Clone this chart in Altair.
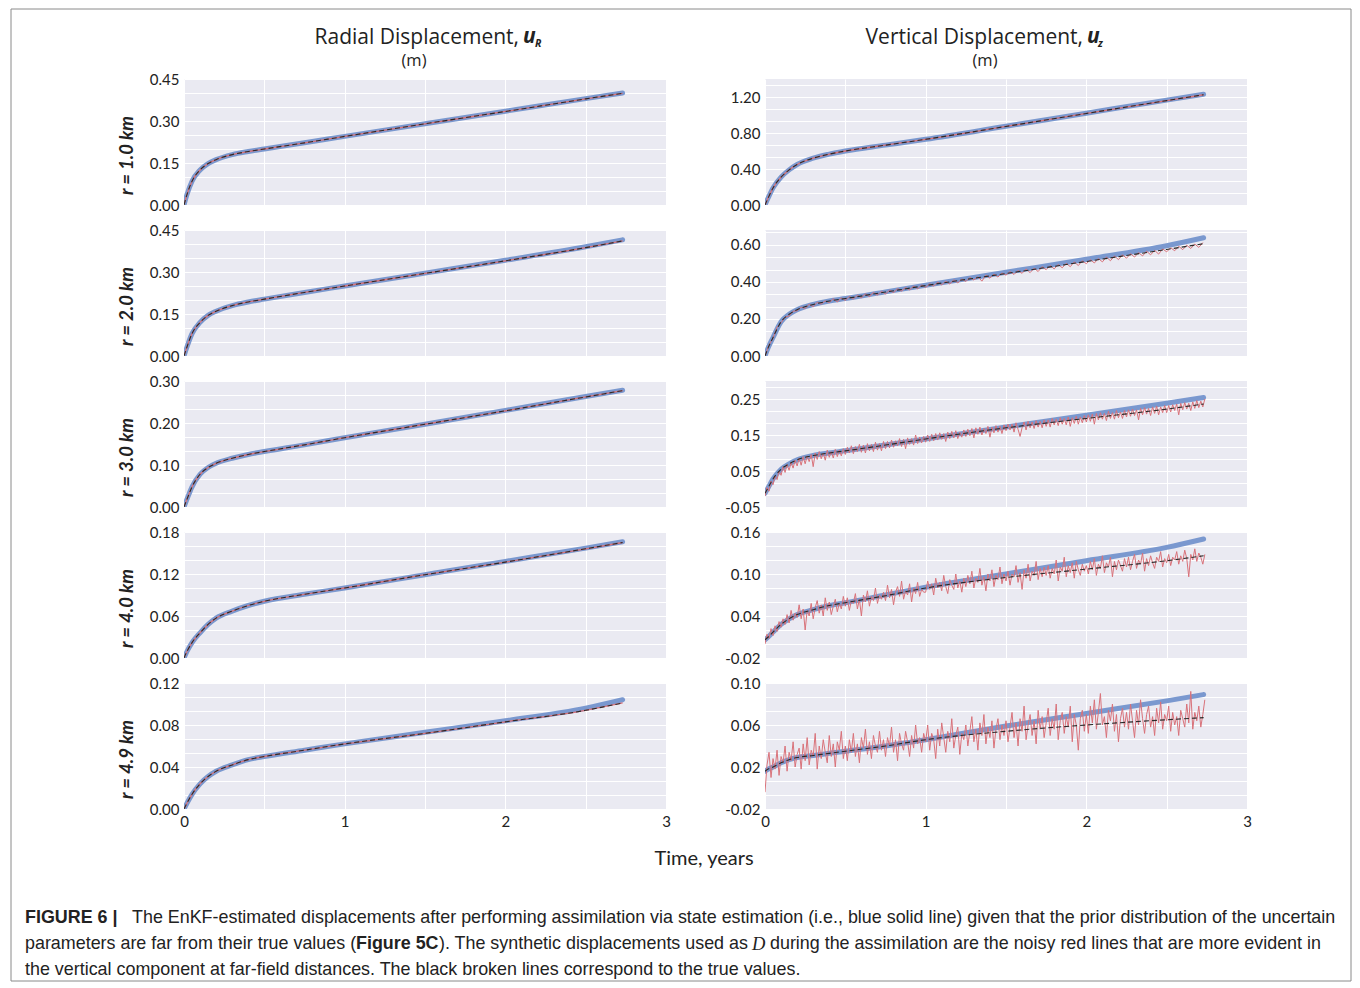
import altair as alt
import pandas as pd

# ---------------- data ----------------
T = [0, 0.02, 0.05, 0.1, 0.15, 0.2, 0.3, 0.4, 0.5, 0.75, 1.0, 1.5, 2.0, 2.5, 2.73]
T_OBS = [round(i * 0.025, 4) for i in range(110)]        # 0 .. 2.725
T_OBS2 = [round(i * 0.0125, 4) for i in range(220)]      # 0 .. 2.7375

# Radial displacement u_R (left column)
L1_EST = [0, 0.04, 0.085, 0.125, 0.148, 0.162, 0.180, 0.191, 0.200, 0.222, 0.245, 0.290, 0.335, 0.380, 0.400]
L1_TRUE = [0, 0.04, 0.085, 0.125, 0.148, 0.162, 0.180, 0.191, 0.200, 0.222, 0.245, 0.290, 0.334, 0.379, 0.399]
L2_EST = [0, 0.035, 0.08, 0.12, 0.145, 0.16, 0.18, 0.193, 0.203, 0.227, 0.25, 0.296, 0.342, 0.390, 0.415]
L2_TRUE = [0, 0.035, 0.08, 0.12, 0.145, 0.16, 0.18, 0.193, 0.203, 0.227, 0.25, 0.295, 0.340, 0.387, 0.411]
L3_EST = [0, 0.02, 0.048, 0.078, 0.094, 0.104, 0.116, 0.125, 0.132, 0.148, 0.165, 0.197, 0.230, 0.263, 0.278]
L3_TRUE = [0, 0.02, 0.048, 0.078, 0.094, 0.104, 0.116, 0.125, 0.132, 0.148, 0.165, 0.197, 0.229, 0.262, 0.277]
L4_EST = [0, 0.01, 0.022, 0.036, 0.048, 0.057, 0.067, 0.075, 0.081, 0.091, 0.100, 0.119, 0.138, 0.157, 0.166]
L4_TRUE = [0, 0.01, 0.022, 0.036, 0.048, 0.057, 0.067, 0.075, 0.081, 0.091, 0.100, 0.119, 0.137, 0.156, 0.165]
L5_EST = [0, 0.006, 0.014, 0.024, 0.031, 0.036, 0.042, 0.047, 0.050, 0.056, 0.062, 0.073, 0.084, 0.096, 0.104]
L5_TRUE = [0, 0.006, 0.014, 0.024, 0.031, 0.036, 0.042, 0.047, 0.050, 0.056, 0.062, 0.072, 0.083, 0.094, 0.101]

# Vertical displacement u_z (right column)
R1_EST = [0, 0.08, 0.19, 0.31, 0.39, 0.45, 0.52, 0.565, 0.60, 0.665, 0.73, 0.875, 1.02, 1.165, 1.23]
R1_TRUE = [0, 0.08, 0.19, 0.31, 0.39, 0.45, 0.52, 0.565, 0.60, 0.665, 0.73, 0.873, 1.017, 1.16, 1.225]
R2_EST = [0, 0.045, 0.1, 0.185, 0.225, 0.25, 0.278, 0.297, 0.31, 0.346, 0.382, 0.452, 0.522, 0.595, 0.638]
R2_TRUE = [0, 0.045, 0.1, 0.185, 0.225, 0.25, 0.278, 0.297, 0.31, 0.345, 0.38, 0.445, 0.51, 0.575, 0.606]
R3_EST = [-0.012, 0.004, 0.028, 0.055, 0.070, 0.081, 0.093, 0.100, 0.106, 0.122, 0.139, 0.172, 0.205, 0.238, 0.254]
R3_TRUE = [-0.012, 0.004, 0.028, 0.055, 0.070, 0.081, 0.093, 0.100, 0.106, 0.122, 0.139, 0.170, 0.196, 0.222, 0.236]
R4_EST = [0.006, 0.01, 0.017, 0.028, 0.036, 0.042, 0.049, 0.055, 0.059, 0.070, 0.081, 0.100, 0.119, 0.138, 0.150]
R4_TRUE = [0.006, 0.01, 0.017, 0.028, 0.036, 0.042, 0.049, 0.055, 0.059, 0.069, 0.080, 0.095, 0.107, 0.119, 0.126]
R5_EST = [0.016, 0.018, 0.020, 0.024, 0.027, 0.029, 0.031, 0.033, 0.035, 0.040, 0.046, 0.059, 0.071, 0.083, 0.089]
R5_TRUE = [0.016, 0.018, 0.020, 0.024, 0.027, 0.029, 0.031, 0.033, 0.035, 0.040, 0.046, 0.054, 0.060, 0.065, 0.067]

# noisy synthetic observations D (red)
R2_OBS = [0.000, 0.060, 0.096, 0.156, 0.180, 0.210, 0.216, 0.242, 0.244, 0.264,
          0.256, 0.280, 0.266, 0.290, 0.280, 0.298, 0.288, 0.310, 0.292, 0.314,
          0.300, 0.322, 0.308, 0.328, 0.314, 0.336, 0.320, 0.344, 0.328, 0.350,
          0.334, 0.356, 0.342, 0.364, 0.350, 0.370, 0.356, 0.378, 0.362, 0.384,
          0.370, 0.390, 0.378, 0.398, 0.384, 0.404, 0.388, 0.412, 0.394, 0.416,
          0.402, 0.424, 0.410, 0.428, 0.404, 0.436, 0.420, 0.442, 0.426, 0.448,
          0.436, 0.456, 0.440, 0.462, 0.446, 0.470, 0.450, 0.474, 0.456, 0.482,
          0.466, 0.488, 0.470, 0.494, 0.476, 0.500, 0.482, 0.508, 0.488, 0.514,
          0.498, 0.520, 0.502, 0.526, 0.508, 0.534, 0.514, 0.540, 0.520, 0.546,
          0.528, 0.552, 0.534, 0.558, 0.540, 0.566, 0.546, 0.570, 0.550, 0.578,
          0.562, 0.584, 0.568, 0.592, 0.574, 0.598, 0.580, 0.604, 0.586, 0.612]
R3_OBS = [-0.020, 0.004, -0.006, 0.022, 0.012, 0.036, 0.026, 0.050, 0.038, 0.062,
          0.046, 0.068, 0.052, 0.074, 0.058, 0.080, 0.064, 0.086, 0.066, 0.090,
          0.070, 0.092, 0.076, 0.096, 0.062, 0.100, 0.082, 0.104, 0.084, 0.100,
          0.080, 0.108, 0.088, 0.104, 0.086, 0.110, 0.090, 0.108, 0.092, 0.112,
          0.096, 0.116, 0.100, 0.120, 0.098, 0.118, 0.104, 0.124, 0.102, 0.122,
          0.100, 0.126, 0.106, 0.124, 0.104, 0.130, 0.108, 0.126, 0.106, 0.132,
          0.112, 0.132, 0.114, 0.136, 0.116, 0.134, 0.120, 0.140, 0.118, 0.138,
          0.112, 0.142, 0.124, 0.140, 0.122, 0.150, 0.126, 0.144, 0.128, 0.146,
          0.130, 0.150, 0.132, 0.152, 0.134, 0.154, 0.136, 0.156, 0.138, 0.154,
          0.132, 0.158, 0.140, 0.160, 0.142, 0.162, 0.140, 0.158, 0.144, 0.164,
          0.146, 0.166, 0.148, 0.168, 0.142, 0.170, 0.152, 0.172, 0.150, 0.168,
          0.154, 0.174, 0.144, 0.172, 0.156, 0.176, 0.158, 0.174, 0.154, 0.178,
          0.162, 0.180, 0.164, 0.180, 0.158, 0.184, 0.166, 0.146, 0.170, 0.186,
          0.164, 0.188, 0.170, 0.186, 0.168, 0.190, 0.172, 0.188, 0.170, 0.192,
          0.174, 0.192, 0.172, 0.196, 0.178, 0.194, 0.176, 0.198, 0.180, 0.196,
          0.178, 0.200, 0.174, 0.198, 0.182, 0.202, 0.180, 0.200, 0.184, 0.204,
          0.186, 0.206, 0.188, 0.208, 0.180, 0.210, 0.192, 0.212, 0.194, 0.210,
          0.190, 0.216, 0.196, 0.212, 0.194, 0.218, 0.198, 0.214, 0.196, 0.218,
          0.200, 0.220, 0.202, 0.222, 0.204, 0.220, 0.192, 0.224, 0.206, 0.226,
          0.208, 0.224, 0.204, 0.228, 0.210, 0.230, 0.206, 0.228, 0.212, 0.232,
          0.212, 0.232, 0.214, 0.234, 0.218, 0.236, 0.206, 0.238, 0.220, 0.240,
          0.222, 0.238, 0.218, 0.242, 0.224, 0.246, 0.226, 0.244, 0.228, 0.250]
R4_OBS = [0.000, 0.014, 0.008, 0.022, 0.012, 0.026, 0.018, 0.032, 0.024, 0.036,
          0.028, 0.042, 0.030, 0.048, 0.034, 0.044, 0.038, 0.056, 0.036, 0.050,
          0.020, 0.048, 0.040, 0.058, 0.036, 0.052, 0.062, 0.044, 0.056, 0.040,
          0.066, 0.048, 0.060, 0.042, 0.054, 0.064, 0.046, 0.058, 0.050, 0.068,
          0.054, 0.066, 0.048, 0.062, 0.058, 0.072, 0.050, 0.064, 0.040, 0.070,
          0.060, 0.076, 0.054, 0.068, 0.062, 0.080, 0.058, 0.070, 0.064, 0.074,
          0.062, 0.084, 0.066, 0.078, 0.056, 0.074, 0.082, 0.068, 0.090, 0.064,
          0.076, 0.070, 0.086, 0.060, 0.080, 0.072, 0.088, 0.068, 0.078, 0.074,
          0.074, 0.090, 0.078, 0.086, 0.070, 0.094, 0.080, 0.088, 0.076, 0.098,
          0.082, 0.072, 0.092, 0.084, 0.078, 0.100, 0.080, 0.090, 0.074, 0.094,
          0.082, 0.098, 0.086, 0.104, 0.080, 0.094, 0.088, 0.108, 0.084, 0.096,
          0.076, 0.100, 0.090, 0.106, 0.082, 0.098, 0.092, 0.110, 0.086, 0.100,
          0.090, 0.104, 0.084, 0.100, 0.096, 0.112, 0.088, 0.102, 0.078, 0.106,
          0.094, 0.114, 0.090, 0.104, 0.098, 0.118, 0.092, 0.108, 0.096, 0.110,
          0.098, 0.112, 0.094, 0.108, 0.100, 0.120, 0.090, 0.110, 0.104, 0.124,
          0.096, 0.112, 0.102, 0.116, 0.094, 0.118, 0.106, 0.098, 0.114, 0.104,
          0.112, 0.100, 0.118, 0.106, 0.122, 0.098, 0.114, 0.108, 0.126, 0.102,
          0.116, 0.110, 0.124, 0.096, 0.118, 0.106, 0.120, 0.112, 0.104, 0.122,
          0.110, 0.124, 0.106, 0.118, 0.128, 0.108, 0.120, 0.114, 0.130, 0.104,
          0.122, 0.112, 0.126, 0.116, 0.108, 0.124, 0.118, 0.132, 0.110, 0.122,
          0.116, 0.128, 0.112, 0.124, 0.120, 0.132, 0.114, 0.126, 0.118, 0.134,
          0.122, 0.096, 0.128, 0.120, 0.136, 0.118, 0.130, 0.124, 0.114, 0.128]
R5_OBS = [-0.004, 0.022, 0.034, 0.010, 0.028, 0.018, 0.036, 0.012, 0.030, 0.024,
          0.040, 0.016, 0.034, 0.026, 0.044, 0.020, 0.032, 0.038, 0.018, 0.042,
          0.026, 0.048, 0.022, 0.036, 0.030, 0.052, 0.018, 0.040, 0.028, 0.046,
          0.034, 0.024, 0.050, 0.030, 0.042, 0.020, 0.044, 0.036, 0.054, 0.028,
          0.040, 0.026, 0.046, 0.034, 0.052, 0.030, 0.042, 0.024, 0.048, 0.038,
          0.056, 0.032, 0.044, 0.028, 0.050, 0.040, 0.034, 0.054, 0.036, 0.046,
          0.030, 0.048, 0.040, 0.058, 0.034, 0.046, 0.026, 0.052, 0.042, 0.036,
          0.054, 0.044, 0.030, 0.050, 0.038, 0.060, 0.042, 0.048, 0.034, 0.052,
          0.044, 0.060, 0.036, 0.052, 0.046, 0.028, 0.056, 0.040, 0.062, 0.048,
          0.034, 0.054, 0.044, 0.066, 0.038, 0.050, 0.058, 0.032, 0.052, 0.046,
          0.060, 0.040, 0.054, 0.068, 0.044, 0.056, 0.036, 0.062, 0.050, 0.070,
          0.042, 0.058, 0.048, 0.064, 0.038, 0.056, 0.066, 0.046, 0.060, 0.050,
          0.064, 0.044, 0.058, 0.072, 0.048, 0.062, 0.040, 0.066, 0.054, 0.078,
          0.046, 0.060, 0.070, 0.050, 0.064, 0.042, 0.074, 0.056, 0.068, 0.048,
          0.062, 0.076, 0.050, 0.066, 0.056, 0.080, 0.046, 0.064, 0.072, 0.052,
          0.068, 0.058, 0.078, 0.044, 0.070, 0.060, 0.036, 0.066, 0.074, 0.054,
          0.070, 0.052, 0.078, 0.062, 0.084, 0.056, 0.072, 0.090, 0.060, 0.068,
          0.048, 0.074, 0.064, 0.080, 0.054, 0.070, 0.044, 0.066, 0.076, 0.058,
          0.072, 0.056, 0.080, 0.064, 0.048, 0.074, 0.060, 0.084, 0.066, 0.052,
          0.070, 0.078, 0.058, 0.068, 0.050, 0.076, 0.062, 0.082, 0.056, 0.070,
          0.064, 0.078, 0.054, 0.072, 0.060, 0.068, 0.050, 0.074, 0.066, 0.058,
          0.080, 0.062, 0.092, 0.056, 0.072, 0.064, 0.078, 0.058, 0.070, 0.084]

ROW_LABELS = ["r = 1.0 km", "r = 2.0 km", "r = 3.0 km", "r = 4.0 km", "r = 4.9 km"]
X_TICKS = [0, 0.5, 1, 1.5, 2, 2.5, 3]

LEFT = [
    (L1_EST, L1_TRUE, None, [0, 0.45], [0, 0.15, 0.30, 0.45]),
    (L2_EST, L2_TRUE, None, [0, 0.45], [0, 0.15, 0.30, 0.45]),
    (L3_EST, L3_TRUE, None, [0, 0.30], [0, 0.10, 0.20, 0.30]),
    (L4_EST, L4_TRUE, None, [0, 0.18], [0, 0.06, 0.12, 0.18]),
    (L5_EST, L5_TRUE, None, [0, 0.12], [0, 0.04, 0.08, 0.12]),
]
RIGHT = [
    (R1_EST, R1_TRUE, None, [0, 1.4], [0, 0.40, 0.80, 1.20]),
    (R2_EST, R2_TRUE, (T_OBS, R2_OBS), [0, 0.68], [0, 0.20, 0.40, 0.60]),
    (R3_EST, R3_TRUE, (T_OBS2, R3_OBS), [-0.05, 0.30], [-0.05, 0.05, 0.15, 0.25]),
    (R4_EST, R4_TRUE, (T_OBS2, R4_OBS), [-0.02, 0.16], [-0.02, 0.04, 0.10, 0.16]),
    (R5_EST, R5_TRUE, (T_OBS2, R5_OBS), [-0.02, 0.10], [-0.02, 0.02, 0.06, 0.10]),
]

# ---------------- styling ----------------
BLUE = "#7a98cf"
RED = "#d9727a"
DARK = "#2a2a2a"
TXT = "#222222"
FONT = "Lato"
TFONT = "Open Sans"
CAP = "Liberation Sans"
CS = 17.9
PW, PH = 482, 126


def grid_values(dom, majors):
    step = (majors[1] - majors[0]) / 3.0
    vals, k = [], 0
    while majors[0] + k * step <= dom[1] + 1e-9:
        vals.append(round(majors[0] + k * step, 6))
        k += 1
    return vals


def txt(s, x, y, size=CS, font=CAP, style="normal", weight="normal", align="left"):
    return alt.Chart(pd.DataFrame({"s": [s]})).mark_text(
        font=font, fontSize=size, fontStyle=style, fontWeight=weight,
        align=align, baseline="middle", color=TXT
    ).encode(text="s:N", x=alt.value(x), y=alt.value(y))


def panel(est, true, obs, dom, majors, ytitle, bottom, extra=None):
    test = " || ".join(f"abs(datum.value - ({m})) < 1e-6" for m in majors)
    label_expr = f"({test}) ? replace(format(datum.value, '.2f'), '\u2212', '-') : ''"
    yaxis = alt.Axis(values=grid_values(dom, majors), labelExpr=label_expr, titleY=PH / 2 + 13)
    if bottom:
        xaxis = alt.Axis(values=X_TICKS, labelFlush=False,
                         labelExpr="datum.value % 1 == 0 ? format(datum.value, 'd') : ''")
    else:
        xaxis = alt.Axis(values=X_TICKS, labels=False)
    xe = alt.X("t:Q", scale=alt.Scale(domain=[0, 3], nice=False, zero=False), axis=xaxis, title=None)
    ye = alt.Y("v:Q", scale=alt.Scale(domain=dom, nice=False, zero=False), axis=yaxis,
               title=ytitle if ytitle else None)

    blue = alt.Chart(pd.DataFrame({"t": T, "v": est})).mark_line(
        color=BLUE, strokeWidth=5, strokeCap="round", interpolate="monotone", clip=True
    ).encode(x=xe, y=ye)
    if obs is None:
        red = alt.Chart(pd.DataFrame({"t": T, "v": true})).mark_line(
            color=RED, strokeWidth=1.3, interpolate="monotone", clip=True
        ).encode(x=xe, y=ye)
    else:
        red = alt.Chart(pd.DataFrame({"t": obs[0], "v": obs[1]})).mark_line(
            color=RED, strokeWidth=1.0, clip=True
        ).encode(x=xe, y=ye)
    black = alt.Chart(pd.DataFrame({"t": T, "v": true})).mark_line(
        color=DARK, strokeWidth=1.1, strokeDash=[5, 3], interpolate="monotone", clip=True
    ).encode(x=xe, y=ye)
    layers = [blue, red, black] + (extra or [])
    return alt.layer(*layers).properties(width=PW, height=PH)


LEFT_TITLE = [
    txt("Radial Displacement,", 335, -41, size=21, font=TFONT, align="right"),
    txt("u", 339, -42, size=21, font=TFONT, style="italic", weight="bold"),
    txt("R", 351, -35, size=10.5, font=TFONT, style="italic", weight="bold"),
    txt("(m)", 230, -18, size=16.5, font=TFONT, align="center"),
]
RIGHT_TITLE = [
    txt("Vertical Displacement,", 318, -41, size=21, font=TFONT, align="right"),
    txt("u", 322, -42, size=21, font=TFONT, style="italic", weight="bold"),
    txt("z", 333, -35, size=10.5, font=TFONT, style="italic", weight="bold"),
    txt("(m)", 220, -18, size=16.5, font=TFONT, align="center"),
]

# footer (x-axis title, caption, frame) positioned relative to the bottom-left panel
FOOTER = [
    txt("Time, years", 520, 176, size=20, font=FONT, align="center"),
    txt("FIGURE 6 |", -159, 235, weight="bold"),
    txt("The EnKF-estimated displacements after performing assimilation via state estimation "
        "(i.e., blue solid line) given that the prior distribution of the uncertain", -52, 235),
    txt("parameters are far from their true values (", -159, 261),
    txt("Figure 5C", 172, 261, weight="bold"),
    txt("). The synthetic displacements used as", 255, 261),
    txt("D", 568, 261, font="Liberation Serif", style="italic", size=18.5),
    txt("during the assimilation are the noisy red lines that are more evident in", 586, 261),
    txt("the vertical component at far-field distances. The black broken lines correspond "
        "to the true values.", -159, 287),
    alt.Chart(pd.DataFrame({"k": [1]})).mark_rect(
        fill="transparent", stroke="#8a8a8a", strokeWidth=1
    ).encode(x=alt.value(-173), x2=alt.value(1167), y=alt.value(-674), y2=alt.value(298)),
]

panels = []
for i in range(5):
    le, lt, lo, ld, lm = LEFT[i]
    re_, rt, ro, rd, rm = RIGHT[i]
    lextra = LEFT_TITLE if i == 0 else (FOOTER if i == 4 else None)
    rextra = RIGHT_TITLE if i == 0 else None
    panels.append(panel(le, lt, lo, ld, lm, ROW_LABELS[i], i == 4, lextra))
    panels.append(panel(re_, rt, ro, rd, rm, None, i == 4, rextra))

chart = alt.concat(
    *panels, columns=2, spacing={"row": 25, "column": 99}, bounds="flush"
).properties(
    padding={"left": 2, "top": 0, "right": 0, "bottom": 0}, background="white"
).configure_view(
    fill="#eaeaf2", strokeWidth=0
).configure_axis(
    labelFont=FONT, labelFontSize=15, labelColor=TXT, labelPadding=5,
    domain=False, ticks=False, gridColor="white", gridWidth=1,
    titleFont=FONT, titleFontSize=18.5, titleFontStyle="italic", titleFontWeight="bold",
    titleColor=TXT, titlePadding=13
)

chart.save("out.html", embed_options={"renderer": "svg", "actions": False})
